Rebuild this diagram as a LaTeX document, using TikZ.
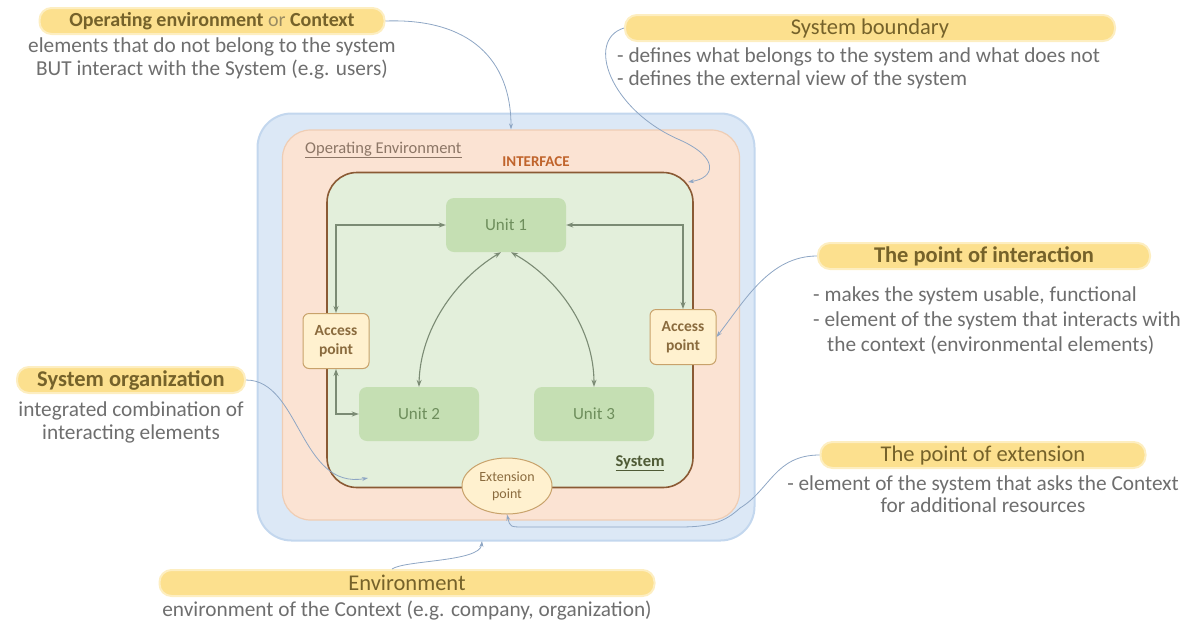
\documentclass[tikz,border=0pt]{standalone}
\usepackage{fontspec}
\setmainfont{Carlito}
\usetikzlibrary{positioning, arrows.meta, calc, shapes.geometric}

\definecolor{hlyel}{HTML}{FCE08E}
\definecolor{hltext}{HTML}{75622A}
\definecolor{orgray}{HTML}{9A8C62}
\definecolor{notegray}{HTML}{6E6E6E}
\definecolor{bluefill}{HTML}{DCE8F6}
\definecolor{blueline}{HTML}{C3D7EE}
\definecolor{peachfill}{HTML}{FBE3D3}
\definecolor{peachline}{HTML}{EFCDB4}
\definecolor{sysfill}{HTML}{E3EFDB}
\definecolor{sysline}{HTML}{8A5A34}
\definecolor{unitfill}{HTML}{C5DFB3}
\definecolor{unittext}{HTML}{6E8E5C}
\definecolor{accfill}{HTML}{FFF1CF}
\definecolor{accline}{HTML}{C8A26B}
\definecolor{acctext}{HTML}{8A6B3E}
\definecolor{linkcol}{HTML}{7B8B74}
\definecolor{callcol}{HTML}{8EA6C4}
\definecolor{ifcol}{HTML}{C0642C}
\definecolor{oplabcol}{HTML}{8C7666}
\definecolor{syslabcol}{HTML}{4F5B36}

\begin{document}
\begin{tikzpicture}[
  x=1pt, y=-1pt,
  >={Stealth[length=7pt, width=5pt]},
  every node/.style={inner sep=2pt},
  hl/.style    = {fill=hlyel, draw=hlyel!55!white, line width=2pt, rounded corners=12pt, minimum height=26pt, inner sep=0.5pt, text=hltext, font=\fontsize{22.5}{24}\selectfont},
  note/.style  = {text=notegray, font=\fontsize{21.3}{22.5}\selectfont, inner sep=0pt},
  frame/.style = {minimum width=#1, rounded corners=34pt},
  unit/.style  = {fill=unitfill, rounded corners=8pt, minimum width=120pt, minimum height=54pt, text=unittext, font=\fontsize{17}{19}\selectfont},
  acc/.style   = {fill=accfill, draw=accline, line width=1pt, rounded corners=6pt, minimum width=66pt, minimum height=55pt, inner sep=0pt, align=center, text=acctext, font=\fontsize{15.5}{18.5}\selectfont\bfseries},
  link/.style  = {<->, draw=linkcol, line width=1.1pt},
  call/.style  = {-{Stealth[length=6pt, width=4pt]}, draw=callcol, line width=0.8pt},
]
  \useasboundingbox (0,0) rectangle (1188,622);

  % Nested boxes: environment, context, system.
  \node[frame=497pt, fill=bluefill, draw=blueline, line width=2pt, minimum height=427pt] (env) at (506,327) {};
  \node[frame=457pt, fill=peachfill, draw=peachline, line width=1.2pt, minimum height=390pt, rounded corners=28pt] (ctx) at (511,325) {};
  \node[frame=366pt, fill=sysfill, draw=sysline, line width=1.6pt, minimum height=315pt, rounded corners=30pt] (sys) at (510,330) {};

  \node[anchor=west, text=oplabcol, font=\fontsize{16.5}{18}\selectfont] (oplab) at (303,150) {\underline{Operating Environment}};
  \node[text=ifcol, font=\fontsize{15}{17}\selectfont\bfseries] (iface) at (536,162) {INTERFACE};
  \node[text=syslabcol, font=\fontsize{16.5}{18}\selectfont\bfseries] (syslab) at (640,463) {\underline{System}};

  % Parts of the system.
  \node[unit]              (u1) at (506,225) {Unit 1};
  \node[unit]              (u2) at (419,414) {Unit 2};
  \node[unit]              (u3) at (594,414) {Unit 3};
  \node[acc]               (apl) at (336,341) {Access\\point};
  \node[acc]               (apr) at (683,337) {Access\\point};
  \node[ellipse, fill=accfill, draw=accline, line width=1pt, minimum width=90pt, minimum height=56pt, inner sep=0pt, align=center, text=acctext, font=\fontsize{14}{17}\selectfont] (extp) at (507,486) {Extension\\point};

  \draw[link] (apl.north) |- (u1.west);
  \draw[link] (apr.north) |- (u1.east);
  \draw[link] ([xshift=-5pt]u1.south) .. controls (455,280) and (420,330) .. (u2.north);
  \draw[link] ([xshift=5pt]u1.south) .. controls (560,280) and (594,330) .. (u3.north);
  \draw[link] (apl.south) |- (u2.west);

  % Callouts round the picture.
  \node[hl, minimum width=345pt, font=\fontsize{20}{22}\selectfont] (ctxt) at (212,21) {\textbf{Operating environment} {\color{orgray}or} \textbf{Context}};
  \node[note, below=3pt of ctxt, align=center] (ctxn) {elements that do not belong to the system\\BUT interact with the System (e.g. users)};

  \node[hl, minimum width=490pt] (bndt) at (870,28) {System boundary};
  \node[note, align=left, anchor=north west] (bndn) at (617,48) {- defines what belongs to the system and what does not\\- defines the external view of the system};

  \node[hl, minimum width=332pt] (intt) at (984,256) {\textbf{The point of interaction}};
  \node[note, align=left, anchor=north west, font=\fontsize{21.3}{25}\selectfont] (intn) at (813,287) {- makes the system usable, functional\\- element of the system that interacts with\\\hspace*{14pt}the context (environmental elements)};

  \node[hl, minimum width=228pt] (orgt) at (131,380) {\textbf{System organization}};
  \node[note, below=8pt of orgt, align=center] (orgn) {integrated combination of\\interacting elements};

  \node[hl, minimum width=325pt] (extt) at (983,455) {The point of extension};
  \node[note, below=6pt of extt, align=center] (extn) {- element of the system that asks the Context\\for additional resources};

  \node[hl, minimum width=495pt] (envt) at (407,583) {Environment};
  \node[note, below=4pt of envt] (envn) {environment of the Context (e.g. company, organization)};

  \coordinate (bndpt) at (688,182);
  \coordinate (orgpt) at (368,478);
  \coordinate (envpt) at (482,541);
  \draw[call] (ctxt.east) .. controls (470,18) and (511,60) .. (ctx.north);
  \draw[call] (bndt.west) .. controls (585,40) and (610,110) .. (680,140) .. controls (720,158) and (715,178) .. (bndpt);
  \draw[call] (intt.west) .. controls (770,256) and (745,300) .. (apr.east);
  \draw[call] (orgt.east) .. controls (300,380) and (300,490) .. (orgpt);
  \draw[call] (extt.west) .. controls (775,455) and (770,490) .. (740,508) .. controls (725,522) and (710,527) .. (680,527) -- (525,527) .. controls (510,527) .. (extp.south);
  \draw[call] ([xshift=-15pt]envt.north) .. controls (405,560) and (480,562) .. (envpt);
\end{tikzpicture}
\end{document}
